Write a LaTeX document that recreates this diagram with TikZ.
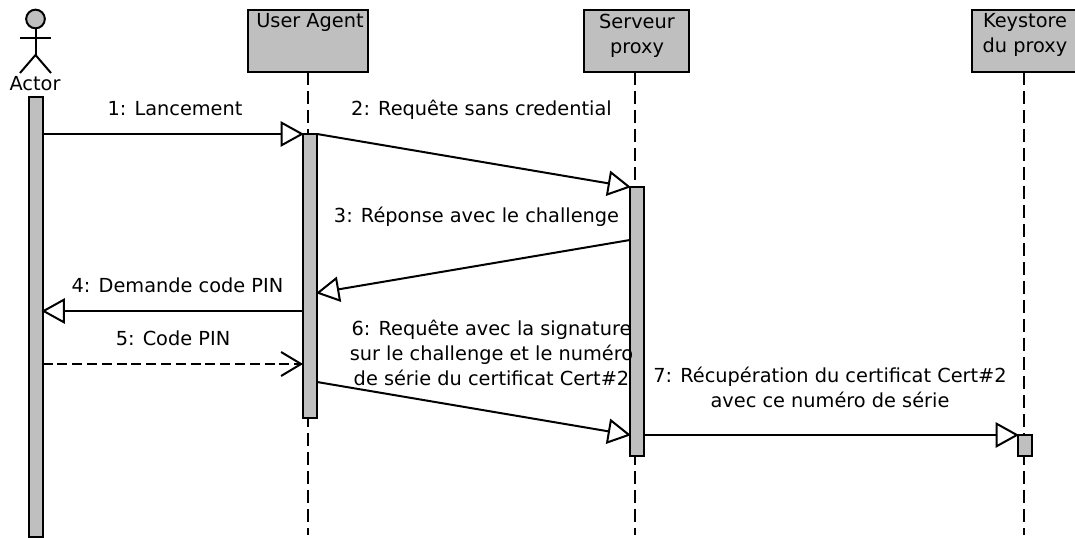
\documentclass[tikz,border=0pt]{standalone}
\usepackage{fontspec}
\setmainfont{DejaVu Sans}
\usetikzlibrary{positioning,calc,arrows.meta}

\tikzset{
	unit/.style={draw,line width=1.5pt,fill=black!25,anchor=north west,minimum width=#1*.75pt,minimum height=46.5pt,inner sep=0pt,outer sep=0pt},
	activ/.style={draw,line width=1.5pt,fill=black!25,minimum width=10.5pt,inner sep=0pt,outer sep=0pt},
	lifeline/.style={line width=1.5pt,dash pattern=on 9.75pt off 4.5pt},
	msg/.style={line width=1.5pt,shorten >=-.75pt,-{Triangle[open,fill=white,length=17.5pt,width=19pt,line width=1.5pt]}},
	reply/.style={line width=1.5pt,dash pattern=on 7.5pt off 3.6pt,-{Straight Barb[length=15pt,width=18pt,line width=1.5pt]}},
	lbl/.style={font=\fontsize{14.5pt}{18.8pt}\selectfont,align=center,inner sep=0pt}
}

\begin{document}
\begin{tikzpicture}[x=.75pt,y=-.75pt]

\useasboundingbox (0,0) rectangle (1075,538);

% the boxes on top
\node [unit=120] at (247.5,10) (ua) {};
\node [unit=105] at (584,10) (proxy) {};
\node [unit=110] at (972,10) (keystore) {};

\node [lbl,anchor=north] at (310,13.5) (uatxt) {User Agent};
\node [lbl,anchor=north] at (637,13.5) (proxytxt) {Serveur\\proxy};
\node [lbl,anchor=north] at (1025,13.5) (keytxt) {Keystore\\du proxy};

% the actor
\node [draw,line width=1.5pt,fill=black!25,circle,inner sep=0pt,minimum size=14pt] at (35.5,19) (head) {};
\coordinate (hip) at (35.5,55);
\coordinate (armL) at (20,38.5);
\coordinate (armR) at (51,38.5);
\coordinate (legL) at (20,73);
\coordinate (legR) at (51,73);
\draw [line width=1.5pt] (head) -- (hip);
\draw [line width=1.5pt] (armL) -- (armR);
\draw [line width=1.5pt] (legL) -- (hip) -- (legR);
\node [lbl] at (35,84) (actor) {Actor};

% lifelines
\coordinate (uaend) at (307.5,535);
\coordinate (proxyend) at (634.5,535);
\coordinate (keyend) at (1024,535);
\draw [lifeline] (307.5,72) -- (uaend);
\draw [lifeline] (634.5,72) -- (proxyend);
\draw [lifeline] (1024,72) -- (keyend);

% activation bars
\node [activ,minimum height=330pt,anchor=north] at (35.5,97) (barA) {};
\node [activ,minimum height=213pt,anchor=north] at (310,134) (barU) {};
\node [activ,minimum height=201.75pt,anchor=north] at (637,187) (barP) {};
\node [activ,minimum height=15.75pt,anchor=north] at (1025,435) (barK) {};

%%%%%%%%%%%%%%%%%%%%%%%%%%%%%%%%%%%%%%%%%%%%%%%%%%%%%%%%%%%%%%%%

\coordinate (m1a) at (barA.east |- 0,134);
\coordinate (m1b) at (barU.north west);
\coordinate (m2a) at (barU.north east);
\coordinate (m2b) at (barP.north west);
\coordinate (m3a) at (barP.west |- 0,240);
\coordinate (m3b) at (barU.east |- 0,293);
\coordinate (m4a) at (barU.west |- 0,311);
\coordinate (m4b) at (barA.east |- 0,311);
\coordinate (m5a) at (barA.east |- 0,364);
\coordinate (m5b) at (barU.west |- 0,364);
\coordinate (m6a) at (barU.east |- 0,382);
\coordinate (m6b) at (barP.west |- 0,435);
\coordinate (m7a) at (barP.east |- 0,435);
\coordinate (m7b) at (barK.north west);

\draw [msg] (m1a) -- (m1b);
\draw [msg] (m2a) -- (m2b);
\draw [msg] (m3a) -- (m3b);
\draw [msg] (m4a) -- (m4b);
\draw [reply] (m5a) -- (m5b);
\draw [msg] (m6a) -- (m6b);
\draw [msg] (m7a) -- (m7b);

\node [lbl] at (175,109) (l1) {1: Lancement};
\node [lbl] at (481.5,110) (l2) {2: Requête sans credential};
\node [lbl] at (476.5,217) (l3) {3: Réponse avec le challenge};
\node [lbl] at (177.5,285) (l4) {4: Demande code PIN};
\node [lbl] at (173,338) (l5) {5: Code PIN};
\node [lbl] at (491.5,353) (l6) {6: Requête avec la signature\\sur le challenge et le numéro\\de série du certificat Cert\#2};
\node [lbl] at (830,387) (l7) {7: Récupération du certificat Cert\#2\\avec ce numéro de série};

\end{tikzpicture}
\end{document}
